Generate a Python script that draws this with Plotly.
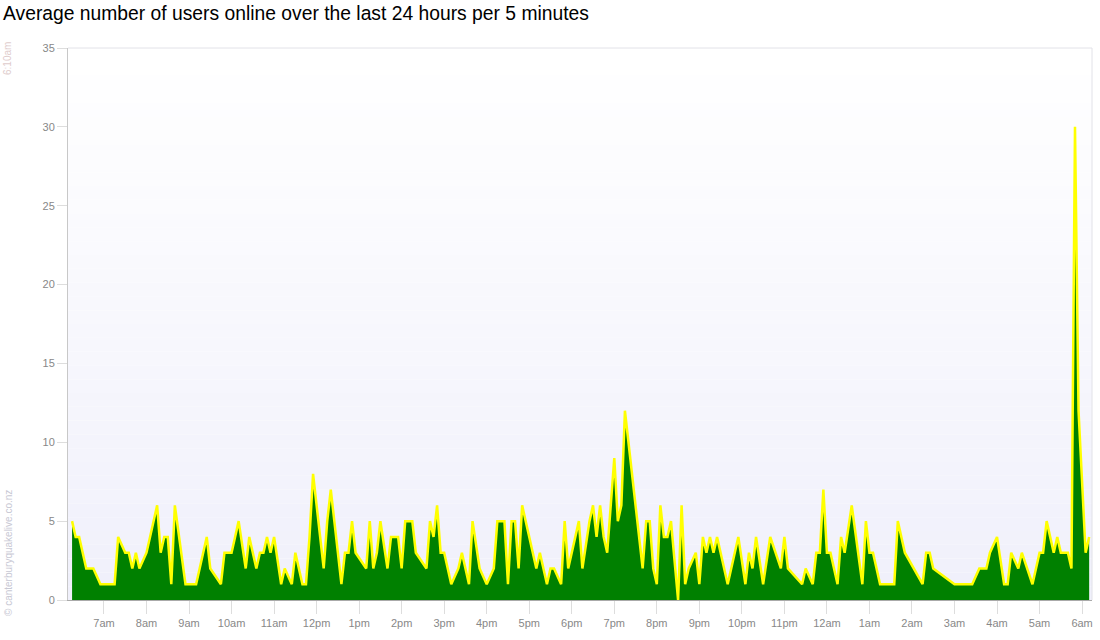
import plotly.graph_objects as go
from datetime import datetime, timedelta

# ---- data (local time, 5-minute averages; vertices of the series) ----
times = [
    "06:15", "06:20", "06:25", "06:35", "06:45", "06:55", "07:15", "07:20", "07:30", "07:35",
    "07:40", "07:45", "07:50", "08:00", "08:05", "08:15", "08:20", "08:25", "08:30", "08:35",
    "08:40", "08:55", "09:10", "09:15", "09:25", "09:30", "09:45", "09:50", "10:00", "10:05",
    "10:10", "10:20", "10:25", "10:35", "10:40", "10:45", "10:50", "10:55", "11:00", "11:10",
    "11:15", "11:25", "11:30", "11:40", "11:45", "11:50", "11:55", "12:10", "12:15", "12:20",
    "12:35", "12:40", "12:45", "12:50", "12:55", "13:10", "13:15", "13:20", "13:25", "13:30",
    "13:40", "13:45", "13:55", "14:00", "14:05", "14:15", "14:20", "14:35", "14:40", "14:45",
    "14:50", "14:55", "15:00", "15:10", "15:20", "15:25", "15:35", "15:40", "15:50", "16:00",
    "16:10", "16:15", "16:25", "16:30", "16:35", "16:40", "16:45", "16:50", "17:00", "17:10",
    "17:15", "17:25", "17:30", "17:35", "17:45", "17:50", "17:55", "18:00", "18:10", "18:15",
    "18:25", "18:30", "18:35", "18:40", "18:45", "18:50", "19:00", "19:05", "19:10", "19:15",
    "19:20", "19:40", "19:45", "19:50", "19:55", "20:00", "20:05", "20:10", "20:15", "20:20",
    "20:30", "20:35", "20:40", "20:45", "20:55", "21:00", "21:05", "21:10", "21:15", "21:20",
    "21:25", "21:35", "21:40", "21:45", "21:55", "22:05", "22:10", "22:15", "22:20", "22:30",
    "22:40", "22:55", "23:00", "23:05", "23:25", "23:30", "23:40", "23:45", "23:50", "23:55",
    "00:00", "00:05", "00:15", "00:20", "00:25", "00:35", "00:50", "00:55", "01:00", "01:05",
    "01:15", "01:35", "01:40", "01:50", "02:15", "02:20", "02:25", "02:30", "03:00", "03:25",
    "03:35", "03:45", "03:50", "04:00", "04:10", "04:15", "04:20", "04:30", "04:35", "04:50",
    "05:00", "05:05", "05:10", "05:20", "05:25", "05:30", "05:40", "05:45", "05:50", "05:55",
    "06:05", "06:10",
]
users = [
    5, 4, 4, 2, 2, 1, 1, 4, 3, 3,
    2, 3, 2, 3, 4, 6, 3, 4, 4, 1,
    6, 1, 1, 2, 4, 2, 1, 3, 3, 4,
    5, 2, 4, 2, 3, 3, 4, 3, 4, 1,
    2, 1, 3, 1, 1, 4, 8, 2, 5, 7,
    1, 3, 3, 5, 3, 2, 5, 2, 3, 5,
    2, 4, 4, 2, 5, 5, 3, 2, 5, 4,
    6, 3, 3, 1, 2, 3, 1, 5, 2, 1,
    2, 5, 5, 1, 5, 5, 2, 6, 4, 2,
    3, 1, 2, 2, 1, 5, 2, 3, 5, 2,
    5, 6, 4, 6, 4, 3, 9, 5, 6, 12,
    10, 2, 5, 5, 2, 1, 6, 4, 4, 5,
    0, 6, 1, 2, 3, 1, 4, 3, 4, 3,
    4, 2, 1, 2, 4, 1, 3, 2, 4, 1,
    4, 2, 4, 2, 1, 2, 1, 3, 3, 7,
    3, 3, 1, 4, 3, 6, 1, 5, 3, 3,
    1, 1, 5, 3, 1, 3, 3, 2, 1, 1,
    2, 2, 3, 4, 1, 1, 3, 2, 3, 1,
    3, 3, 5, 3, 4, 3, 3, 2, 30, 12,
    3, 4,
]
tick_labels = ["7am", "8am", "9am", "10am", "11am", "12pm", "1pm", "2pm", "3pm", "4pm",
               "5pm", "6pm", "7pm", "8pm", "9pm", "10pm", "11pm", "12am", "1am", "2am",
               "3am", "4am", "5am", "6am"]
y_ticks = [0, 5, 10, 15, 20, 25, 30, 35]
title_text = "Average number of users online over the last 24 hours per 5 minutes"
start_label = "6:10am"
credit = "© canterburyquakelive.co.nz"

# ---- build datetimes with day rollover ----
base = datetime(2024, 5, 1)
xs = []
day = 0
prev = None
for t in times:
    h, m = map(int, t.split(":"))
    if prev is not None and (h, m) < prev:
        day += 1
    prev = (h, m)
    xs.append(base + timedelta(days=day, hours=h, minutes=m))

tick_vals = [base + timedelta(hours=7 + i) for i in range(len(tick_labels))]
x_range = [base + timedelta(hours=6, minutes=9, seconds=15),
           base + timedelta(days=1, hours=6, minutes=14)]

fig = go.Figure()
fig.add_trace(go.Scatter(
    x=xs, y=users, mode="lines", fill="tozeroy",
    fillcolor="#008000",
    line=dict(color="#ffff00", width=2.5),
    hoverinfo="x+y", showlegend=False,
))

# background gradient bands (white at top to pale lavender at bottom)
n = 40
shapes = []
top_c = (255, 255, 255)
bot_c = (240, 240, 251)
for i in range(n):
    f = i / (n - 1)
    c = tuple(round(top_c[k] + (bot_c[k] - top_c[k]) * f) for k in range(3))
    shapes.append(dict(type="rect", xref="x domain", yref="y domain",
                       x0=0, x1=1, y0=1 - (i + 1) / n, y1=1 - i / n,
                       fillcolor="rgb(%d,%d,%d)" % c, line=dict(width=0), layer="below"))
# top and right frame lines
shapes.append(dict(type="line", xref="x domain", yref="y domain", x0=0, x1=1, y0=1, y1=1,
                   line=dict(color="#e2e2e8", width=1)))
shapes.append(dict(type="line", xref="x domain", yref="y domain", x0=1, x1=1, y0=0, y1=1,
                   line=dict(color="#e2e2e8", width=1)))

fig.update_layout(
    width=1100, height=640,
    margin=dict(l=68, r=8, t=48, b=40),
    paper_bgcolor="#ffffff",
    plot_bgcolor="#ffffff",
    shapes=shapes,
    font=dict(family="Liberation Sans, Arial, sans-serif", color="#888888", size=11),
    title=dict(text=title_text, xref="container", yref="container",
               x=3 / 1100, xanchor="left", y=1 - 13 / 640, yanchor="middle",
               font=dict(size=19.3, color="#000000", family="Liberation Sans, Arial, sans-serif")),
    xaxis=dict(
        type="date", range=x_range,
        tickmode="array", tickvals=tick_vals, ticktext=tick_labels,
        ticks="outside", ticklen=13, tickcolor="#dddddd", tickwidth=1,
        showgrid=False, zeroline=False,
        showline=True, linecolor="#aaaaaa", linewidth=1,
        tickfont=dict(size=11, color="#888888"),
    ),
    yaxis=dict(
        range=[0, 35], tickmode="array", tickvals=y_ticks,
        ticks="outside", ticklen=10, tickcolor="#dddddd", tickwidth=1,
        showgrid=False, zeroline=False,
        showline=True, linecolor="#c8c8c8", linewidth=1,
        tickfont=dict(size=11, color="#888888"),
    ),
    annotations=[
        dict(text=start_label, xref="paper", yref="paper",
             x=-60 / 1024, xanchor="center", y=1 - 11 / 552, yanchor="middle",
             textangle=-90, showarrow=False,
             font=dict(size=10, color="#e0cccc")),
        dict(text=credit, xref="paper", yref="paper",
             x=-60 / 1024, xanchor="center", y=(600 - 553) / 552, yanchor="middle",
             textangle=-90, showarrow=False,
             font=dict(size=10, color="#c8c8d4")),
    ],
)

fig.write_html("out.html", config={"displayModeBar": False},
               post_script="document.body.style.margin='0';")
